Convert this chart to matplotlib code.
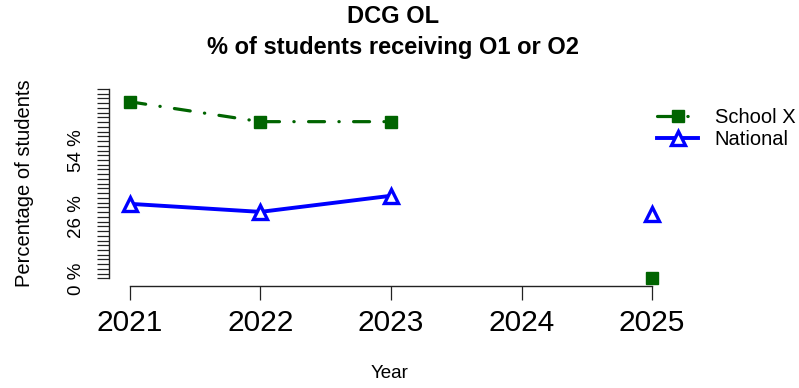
import numpy as np
import matplotlib
matplotlib.use("Agg")
import matplotlib.pyplot as plt

plt.rcParams['font.family'] = ['Liberation Sans', 'DejaVu Sans']

# data (2024 missing)
years = [2021, 2022, 2023, 2024, 2025]
school_x = [74.6, 66.2, 66.2, np.nan, 0.0]
national = [31.5, 28.1, 34.9, np.nan, 27.1]
y_ticks = list(range(0, 81, 2))
y_tick_labels = {0: '0 %', 26: '26 %', 54: '54 %'}

W, H = 799, 388
fig = plt.figure(figsize=(W / 100, H / 100), dpi=100)

# plot region in pixels (R style, 4% padding)
left, right, top, bottom = 109, 673, 81.4, 286
ax = fig.add_axes([left / W, 1 - bottom / H, (right - left) / W, (bottom - top) / H])
ax.set_xlim(2020.84, 2025.16)
ax.set_ylim(-3.2, 83.2)

green = '#006400'
blue = '#0000ff'

ax.plot(years, school_x, color=green, lw=2.3,
        linestyle=(0, (5, 4.5, 0.1, 4.5)), dash_capstyle='round',
        marker='s', markersize=9, label='School X')
ax.plot(years, national, color=blue, lw=2.8, linestyle='-',
        marker='^', markersize=9.5, markerfacecolor='white',
        markeredgewidth=2.4, markeredgecolor=blue, label='National')

# axes like base R with bty="n"
for s in ['top', 'right']:
    ax.spines[s].set_visible(False)
ax.spines['left'].set_bounds(0, 80)
ax.spines['bottom'].set_bounds(2021, 2025)
for s in ['left', 'bottom']:
    ax.spines[s].set_linewidth(1.0)
    ax.spines[s].set_color('#222222')

ax.set_yticks(y_ticks)
ax.set_yticklabels([y_tick_labels.get(t, '') for t in y_ticks],
                   rotation=90, va='center', fontsize=13.5)
ax.tick_params(axis='y', length=8.6, width=0.9, pad=8.5, color='#222222')

ax.set_xticks(years)
ax.set_xticklabels([str(y) for y in years], fontsize=21.5)
ax.tick_params(axis='x', length=10, width=0.9, pad=6.5, color='#222222')

fig.text(393 / W, 1 - 32 / H, 'DCG OL\n% of students receiving O1 or O2',
         ha='center', va='center', fontsize=17, fontweight='bold',
         linespacing=1.4)
fig.text(25 / W, 1 - 183 / H, 'Percentage of students', rotation=90,
         ha='center', va='center', fontsize=14.5)
fig.text(390 / W, 1 - 373 / H, 'Year', ha='center', va='center', fontsize=13.5)

fig.legend(loc='upper left', bbox_to_anchor=(657 / W, 1 - 108 / H),
           frameon=False, fontsize=14.5, handlelength=2.06,
           handletextpad=0.8, borderpad=0, borderaxespad=0,
           labelspacing=0.15)

fig.savefig('out.png', dpi=100)
